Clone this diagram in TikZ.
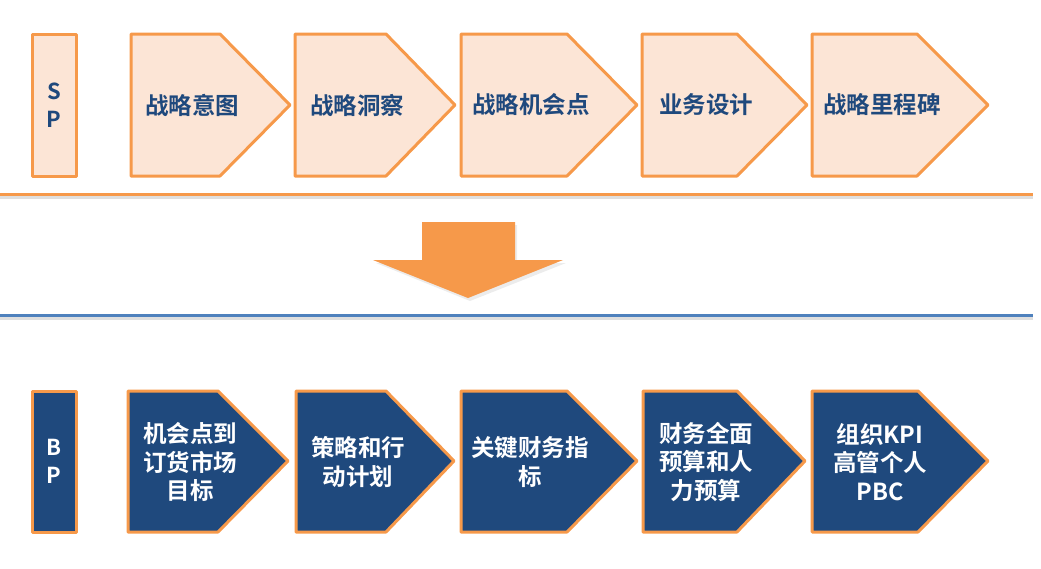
\documentclass[tikz,border=0pt]{standalone}
\usepackage{fontspec}
\setmainfont{Noto Sans CJK SC}[BoldFont={Noto Sans CJK SC Bold}]
\usepackage{xcolor}
\usepackage{tikz}
\usetikzlibrary{positioning,calc}
\definecolor{accorange}{RGB}{246,153,74}
\definecolor{peach}{RGB}{252,229,214}
\definecolor{navyblue}{RGB}{31,73,125}
\definecolor{lineblue}{RGB}{79,129,189}

\begin{document}
\begin{tikzpicture}[x=1pt,y=-1pt,
          sp/.style={draw=accorange,fill=peach,line width=3pt,line join=round},
          bp/.style={draw=accorange,fill=navyblue,line width=3pt,line join=round},
          sptxt/.style={font=\bfseries\fontsize{23.5}{28.5}\selectfont,text=navyblue,align=center},
          bptxt/.style={font=\bfseries\fontsize{23.5}{28.5}\selectfont,text=white,align=center},
          side/.style={font=\bfseries\fontsize{22}{28}\selectfont,align=center}]
        \useasboundingbox (0,0) rectangle (1041,568);
        % SP row
        \draw[sp] (32,34) rectangle (76,176);
        \node[side,text=navyblue] (sp) at (54,105) {S\\P};
        \draw[sp] (131,34) -- (220,34) -- (290,105) -- (220,176) -- (131,176) -- cycle;
        \draw[sp] (295,34) -- (386,34) -- (455,105) -- (386,176) -- (295,176) -- cycle;
        \draw[sp] (461,34) -- (567,34) -- (637,105) -- (567,176) -- (461,176) -- cycle;
        \draw[sp] (642,34) -- (737,34) -- (807,105) -- (737,176) -- (642,176) -- cycle;
        \draw[sp] (812,34) -- (917,34) -- (988,105) -- (917,176) -- (812,176) -- cycle;
        \node[sptxt] (yt) at (192,105) {战略意图};
        \node[sptxt] (dc) at (357,105) {战略洞察};
        \node[sptxt] (jh) at (531,105) {战略机会点};
        \node[sptxt] (sj) at (706,105) {业务设计};
        \node[sptxt] (lc) at (882,105) {战略里程碑};
        % dividers and arrow
        \draw[gray!25,line width=3pt] (0,197.5) -- (1033,197.5);
        \draw[accorange,line width=3pt] (0,194) -- (1033,194);
        \draw[gray!25,line width=3pt] (0,318.5) -- (1033,318.5);
        \draw[lineblue,line width=3pt] (0,315) -- (1033,315);
        \fill[gray!30,opacity=0.5] (424,225) -- (517,225) -- (517,263) -- (566,263)
              -- (470,301) -- (376,263) -- (424,263) -- cycle;
        \fill[accorange] (422,222) -- (515,222) -- (515,260) -- (563,260)
              -- (468,298) -- (373,260) -- (422,260) -- cycle;
        % BP row
        \draw[bp] (32,391) rectangle (76,532);
        \node[side,text=white] (bp) at (54,461) {B\\P};
        \draw[bp] (128,391) -- (218,391) -- (288,461) -- (218,532) -- (128,532) -- cycle;
        \draw[bp] (296,391) -- (386,391) -- (454,461) -- (386,532) -- (296,532) -- cycle;
        \draw[bp] (461,391) -- (567,391) -- (637,461) -- (567,532) -- (461,532) -- cycle;
        \draw[bp] (643,391) -- (737,391) -- (805,461) -- (737,532) -- (643,532) -- cycle;
        \draw[bp] (812,391) -- (918,391) -- (988,461) -- (918,532) -- (812,532) -- cycle;
        \node[bptxt] (mb) at (190,462) {机会点到\\订货市场\\目标};
        \node[bptxt] (jd) at (358,462) {策略和行\\动计划};
        \node[bptxt] (cw) at (530,462) {关键财务指\\标};
        \node[bptxt] (ys) at (706,462) {财务全面\\预算和人\\力预算};
        \node[bptxt] (kpi) at (880,462) {组织KPI\\高管个人\\PBC};
      \end{tikzpicture}
\end{document}
